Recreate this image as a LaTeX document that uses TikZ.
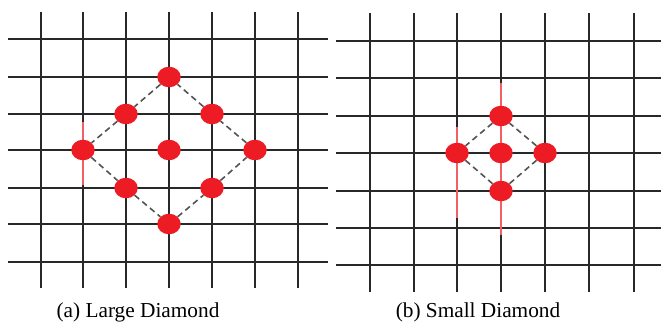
\documentclass[tikz,border=0pt]{standalone}
\usepackage{fontspec}
\setmainfont{Liberation Serif}
\usetikzlibrary{shapes.geometric}
\definecolor{dotRed}{RGB}{237,28,36}
\definecolor{gridCol}{RGB}{40,40,40}

\begin{document}
\begin{tikzpicture}[x=1pt,y=-1pt,
    gridln/.style={draw=gridCol,line width=1.3pt},
    redln/.style={draw=dotRed!70,line width=1.2pt},
    dot/.style={ellipse,fill=dotRed,inner sep=0pt,minimum width=23.5pt,minimum height=20.5pt},
    dsh/.style={draw=gridCol!80,line width=1.6pt,dash pattern=on 6pt off 4pt},
    capt/.style={anchor=base,font=\fontsize{21.3}{24}\selectfont}]
    \useasboundingbox (0,0) rectangle (662,324);
    % --- (a) large diamond: grid ---
    \foreach \x in {41,83,126,169,212,255,298} \draw[gridln] (\x,12) -- (\x,288);
    \foreach \y in {39,77,114,150,188,224,262} \draw[gridln] (8,\y) -- (328,\y);
    \draw[redln] (83,122) -- (83,185);
    % --- (a) search points ---
    \node[dot] (aT) at (169,77) {};
    \node[dot] (aTL) at (126,114) {};
    \node[dot] (aTR) at (212,114) {};
    \node[dot] (aL) at (83,150) {};
    \node[dot] (aC) at (169,150) {};
    \node[dot] (aR) at (255,150) {};
    \node[dot] (aBL) at (126,188) {};
    \node[dot] (aBR) at (212,188) {};
    \node[dot] (aB) at (169,224) {};
    \foreach \a/\b in {aT/aTL,aTL/aL,aL/aBL,aBL/aB,aB/aBR,aBR/aR,aR/aTR,aTR/aT}
      \draw[dsh] (\a)--(\b);
    % --- (b) small diamond: grid ---
    \foreach \x in {370,414,457,501,545,589,634} \draw[gridln] (\x,13) -- (\x,292);
    \foreach \y in {41,78,116,153,191,228,265} \draw[gridln] (336,\y) -- (661,\y);
    \draw[redln] (457,127) -- (457,218);
    \draw[redln] (501,83) -- (501,235);
    % --- (b) search points ---
    \node[dot] (bT) at (501,116) {};
    \node[dot] (bL) at (457,153) {};
    \node[dot] (bC) at (501,153) {};
    \node[dot] (bR) at (545,153) {};
    \node[dot] (bB) at (501,191) {};
    \foreach \a/\b in {bT/bL,bL/bB,bB/bR,bR/bT} \draw[dsh] (\a)--(\b);
    % --- captions ---
    \node[capt] (capA) at (138,317) {(a) Large Diamond};
    \node[capt] (capB) at (478,317) {(b) Small Diamond};
\end{tikzpicture}
\end{document}
